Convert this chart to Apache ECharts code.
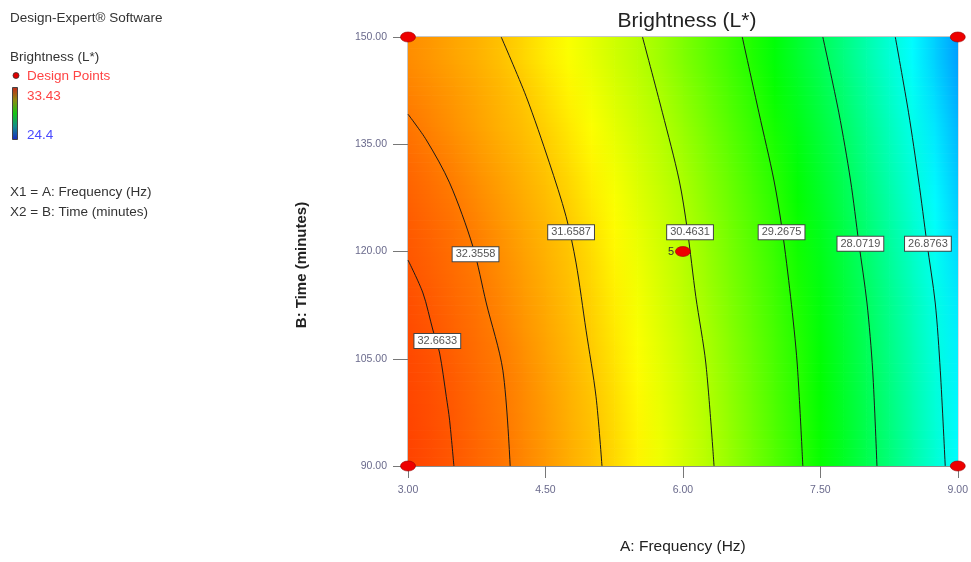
<!DOCTYPE html>
<html>
<head>
<meta charset="utf-8">
<script src="https://cdn.jsdelivr.net/npm/echarts@6/dist/echarts.min.js"></script>
<style>
html,body{margin:0;padding:0;background:#fff;}
#chart{width:971px;height:562px;}
</style>
</head>
<body>
<div id="chart"></div>
<script>
// ---------------- DATA ----------------
// Frequency nodes (Hz) at which the response surface was read
const freqNodes = [3.00,3.25,3.50,3.75,4.00,4.25,4.50,4.75,5.00,5.25,5.50,5.75,6.00,6.25,6.50,6.75,7.00,7.25,7.50,7.75,8.00,8.25,8.50,8.75,9.00];
// Time bands (minutes): band centres
const timeBands = [92.5,97.5,102.5,107.5,112.5,117.5,122.5,127.5,132.5,137.5,142.5,147.5];
const b092 = [32.84,32.75,32.65,32.53,32.41,32.25,32.08,31.90,31.73,31.51,31.27,31.02,30.78,30.54,30.25,29.94,29.63,29.33,28.97,28.60,28.23,27.85,27.44,27.04,26.63];
const b097 = [32.82,32.74,32.64,32.51,32.39,32.23,32.06,31.88,31.71,31.48,31.24,30.99,30.75,30.51,30.21,29.91,29.60,29.30,28.94,28.57,28.21,27.82,27.41,27.01,26.60];
const b102 = [32.80,32.72,32.61,32.49,32.37,32.21,32.03,31.85,31.67,31.44,31.20,30.96,30.72,30.47,30.18,29.88,29.57,29.27,28.91,28.54,28.18,27.79,27.38,26.98,26.56];
const b107 = [32.78,32.69,32.57,32.45,32.33,32.15,31.98,31.81,31.62,31.38,31.14,30.91,30.67,30.42,30.12,29.83,29.53,29.23,28.86,28.50,28.14,27.74,27.34,26.93,26.52];
const b112 = [32.74,32.64,32.52,32.41,32.26,32.09,31.93,31.76,31.57,31.33,31.09,30.85,30.61,30.35,30.06,29.77,29.48,29.17,28.81,28.45,28.09,27.69,27.29,26.89,26.47];
const b117 = [32.68,32.58,32.47,32.36,32.20,32.04,31.88,31.72,31.51,31.27,31.04,30.80,30.56,30.29,30.00,29.72,29.43,29.10,28.74,28.38,28.01,27.60,27.20,26.80,26.38];
const b122 = [32.64,32.54,32.43,32.30,32.14,31.98,31.83,31.67,31.44,31.21,30.98,30.75,30.51,30.24,29.95,29.66,29.37,29.03,28.67,28.30,27.92,27.52,27.12,26.71,26.29];
const b127 = [32.58,32.47,32.36,32.21,32.06,31.91,31.76,31.58,31.35,31.13,30.90,30.68,30.45,30.16,29.88,29.59,29.30,28.94,28.58,28.22,27.84,27.44,27.03,26.62,26.20];
const b132 = [32.50,32.39,32.26,32.11,31.97,31.83,31.68,31.48,31.26,31.04,30.82,30.60,30.36,30.07,29.79,29.50,29.20,28.84,28.49,28.14,27.74,27.34,26.95,26.53,26.11];
const b137 = [32.40,32.27,32.14,32.01,31.87,31.74,31.58,31.37,31.15,30.94,30.73,30.52,30.25,29.97,29.68,29.40,29.08,28.73,28.39,28.04,27.64,27.25,26.85,26.44,26.01];
const b142 = [32.28,32.18,32.07,31.95,31.82,31.67,31.46,31.26,31.05,30.84,30.64,30.42,30.14,29.86,29.58,29.30,28.96,28.62,28.28,27.92,27.53,27.14,26.75,26.33,25.90];
const b147 = [32.18,32.08,31.97,31.86,31.72,31.54,31.34,31.14,30.95,30.75,30.55,30.31,30.03,29.76,29.48,29.19,28.85,28.51,28.16,27.79,27.41,27.03,26.64,26.23,25.80];
const bandValues = [b092,b097,b102,b107,b112,b117,b122,b127,b132,b137,b142,b147];

// Contour lines: [frequency, time] points
const c32_6633 = [[3.501,90],[3.454,96.4],[3.418,99.7],[3.345,105.8],[3.272,109.0],[3.163,114.2],[3.0,118.8]];
const c32_3558 = [[4.115,90],[4.035,103.4],[3.854,112.8],[3.708,120.7],[3.454,129.6],[3.2,135.6],[3.0,139.2]];
const c31_6587 = [[5.117,90],[5.052,99.7],[4.943,109.0],[4.834,118.4],[4.725,124.9],[4.543,132.4],[4.289,141.7],[4.017,150]];
const c30_4631 = [[6.340,90],[6.250,104.4],[6.141,113.7],[6.049,123.0],[5.959,130.0],[5.777,139.4],[5.559,150]];
const c29_2675 = [[7.309,90],[7.247,104.4],[7.175,113.7],[7.084,123.0],[6.993,130.0],[6.830,139.4],[6.648,150]];
const c28_0719 = [[8.118,90],[8.071,103.4],[8.009,112.8],[7.920,121.2],[7.829,130.0],[7.702,139.4],[7.527,150]];
const c26_8763 = [[8.863,90],[8.809,103.4],[8.754,112.8],[8.663,121.2],[8.572,130.0],[8.463,139.4],[8.318,150]];
const contourLines = [c32_6633,c32_3558,c31_6587,c30_4631,c29_2675,c28_0719,c26_8763];

// Contour labels
const contourLabels = ['32.6633','32.3558','31.6587','30.4631','29.2675','28.0719','26.8763'];
const contourLabelX = [3.32,3.737,4.78,6.078,7.077,7.937,8.674];
const contourLabelY = [107.5,119.6,122.7,122.7,122.7,121.1,121.1];

// Design points
const designX = [3,3,9,9,6];
const designY = [90,150,90,150,120];
const designReps = ['','','','','5'];

// Axis ticks
const xTicks = [3.00,4.50,6.00,7.50,9.00];
const yTicks = [90.00,105.00,120.00,135.00,150.00];
const colorMin = 24.4, colorMax = 33.43;

// ---------------- COLOUR SCALE ----------------
const rampColors = [[0,0,255],[0,255,255],[0,255,0],[255,255,0],[255,0,0]];
function rgbOf(v){
  let f = (v - colorMin) / (colorMax - colorMin);
  f = Math.max(0, Math.min(1, f)) * (rampColors.length - 1);
  const i = Math.min(rampColors.length - 2, Math.floor(f));
  const r = f - i, a = rampColors[i], b = rampColors[i+1];
  return [a[0]+(b[0]-a[0])*r, a[1]+(b[1]-a[1])*r, a[2]+(b[2]-a[2])*r];
}
function mixCss(c1, c2, w){
  return 'rgb(' + Math.round(c1[0]+(c2[0]-c1[0])*w) + ',' + Math.round(c1[1]+(c2[1]-c1[1])*w) + ',' + Math.round(c1[2]+(c2[2]-c1[2])*w) + ')';
}

// ---------------- BUILD SERIES DATA ----------------
// each item: [x0, x1, tLow, tHigh, vLowLeft, vLowRight, vHighLeft, vHighRight]
const yMin = yTicks[0], yMax = yTicks[yTicks.length-1];
const fieldData = [];
const spans = [];
spans.push([yMin, timeBands[0], bandValues[0], bandValues[0]]);
for (let r = 0; r < timeBands.length - 1; r++) spans.push([timeBands[r], timeBands[r+1], bandValues[r], bandValues[r+1]]);
spans.push([timeBands[timeBands.length-1], yMax, bandValues[bandValues.length-1], bandValues[bandValues.length-1]]);
spans.forEach(function(s){
  for (let c = 0; c < freqNodes.length - 1; c++) {
    fieldData.push([freqNodes[c], freqNodes[c+1], s[0], s[1], s[2][c], s[2][c+1], s[3][c], s[3][c+1]]);
  }
});

const FONT = 'Liberation Sans, Arial, sans-serif';
const STRIPS = 8;
const series = [];
series.push({
  type: 'custom',
  clip: true,
  silent: true,
  z: 1,
  encode: { x: [0, 1], y: [2, 3] },
  data: fieldData,
  renderItem: function(params, api){
    const pLow = api.coord([api.value(0), api.value(2)]);
    const pHigh = api.coord([api.value(1), api.value(3)]);
    const lowL = rgbOf(api.value(4)), lowR = rgbOf(api.value(5));
    const highL = rgbOf(api.value(6)), highR = rgbOf(api.value(7));
    const x = pLow[0], w = pHigh[0] - pLow[0] + 0.7;
    const yBottom = pLow[1], yTop = pHigh[1];
    const h = (yBottom - yTop) / STRIPS;
    const children = [];
    for (let k = 0; k < STRIPS; k++) {
      const wgt = (k + 0.5) / STRIPS;
      children.push({
        type: 'rect',
        shape: { x: x, y: yBottom - (k + 1) * h, width: w, height: h + 0.7 },
        style: {
          fill: new echarts.graphic.LinearGradient(0, 0, 1, 0, [
            { offset: 0, color: mixCss(lowL, highL, wgt) },
            { offset: 1, color: mixCss(lowR, highR, wgt) }
          ])
        }
      });
    }
    return { type: 'group', children: children };
  }
});
contourLines.forEach(function(pts){
  series.push({
    type: 'line', data: pts, smooth: 0.3, symbol: 'none', z: 3, silent: true,
    lineStyle: { color: '#1a1a1a', width: 1 }
  });
});
series.push({
  type: 'scatter', z: 5, silent: true, symbolSize: 0,
  itemStyle: { color: '#fff', opacity: 1 },
  data: contourLabels.map(function(l, i){ return { name: l, value: [contourLabelX[i], contourLabelY[i]] }; }),
  label: {
    show: true, position: 'inside', formatter: '{b}',
    fontFamily: FONT, fontSize: 11, color: '#555',
    backgroundColor: '#fff', borderColor: '#444', borderWidth: 1, padding: [2, 3, 1, 3]
  }
});
series.push({
  type: 'scatter', z: 6, silent: true, clip: false,
  symbol: 'circle', symbolSize: [15, 10],
  itemStyle: { color: '#ee0000', borderColor: '#9a0000', borderWidth: 0.6, opacity: 1 },
  data: designX.map(function(x, i){ return { value: [x, designY[i]], name: designReps[i] }; }),
  label: { show: true, position: 'left', distance: 1, formatter: '{b}', fontFamily: FONT, fontSize: 11, color: '#333' }
});

const chart = echarts.init(document.getElementById('chart'), null, { renderer: 'canvas' });
chart.setOption({
  animation: false,
  backgroundColor: '#fff',
  title: {
    text: 'Brightness (L*)', left: 682, top: 6, textAlign: 'center',
    textStyle: { fontFamily: FONT, fontSize: 21, fontWeight: 'normal', color: '#222' }
  },
  grid: { left: 408, top: 37, right: 12, bottom: 96, show: true, borderColor: '#8c8c8c', borderWidth: 1 },
  xAxis: {
    type: 'value', min: xTicks[0], max: xTicks[xTicks.length-1], interval: xTicks[1]-xTicks[0],
    name: 'A: Frequency (Hz)', nameLocation: 'middle', nameGap: 73,
    nameTextStyle: { fontFamily: FONT, fontSize: 15.5, color: '#222' },
    axisLine: { show: true, lineStyle: { color: '#8c8c8c' } },
    axisTick: { show: true, length: 12, lineStyle: { color: '#777' } },
    axisLabel: { margin: 19, fontFamily: FONT, fontSize: 10.5, color: '#6a6a8c', formatter: function(v){ return v.toFixed(2); } },
    splitLine: { show: false }
  },
  yAxis: {
    type: 'value', min: yTicks[0], max: yTicks[yTicks.length-1], interval: yTicks[1]-yTicks[0],
    name: 'B: Time (minutes)', nameLocation: 'middle', nameGap: 99, nameRotate: 90,
    nameTextStyle: { fontFamily: FONT, fontSize: 15, fontWeight: 'bold', color: '#222', padding: [0, 27, 0, 0] },
    axisLine: { show: true, lineStyle: { color: '#8c8c8c' } },
    axisTick: { show: true, length: 15, lineStyle: { color: '#777' } },
    axisLabel: { margin: 21, fontFamily: FONT, fontSize: 10.5, color: '#6a6a8c', formatter: function(v){ return v.toFixed(2); } },
    splitLine: { show: false }
  },
  graphic: [
    { type: 'text', left: 10, top: 11, style: { text: 'Design-Expert® Software', font: '13.5px ' + FONT, fill: '#333' } },
    { type: 'text', left: 10, top: 50, style: { text: 'Brightness (L*)', font: '13.5px ' + FONT, fill: '#333' } },
    { type: 'circle', shape: { cx: 16, cy: 75.5, r: 3 }, style: { fill: '#e00000', stroke: '#333', lineWidth: 0.8 } },
    { type: 'text', left: 27, top: 69, style: { text: 'Design Points', font: '13.5px ' + FONT, fill: '#ff4444' } },
    { type: 'rect', shape: { x: 12.5, y: 87.5, width: 5, height: 52 },
      style: { stroke: '#444', lineWidth: 1,
        fill: new echarts.graphic.LinearGradient(0, 0, 0, 1, [
          { offset: 0, color: '#c4261a' }, { offset: 0.25, color: '#8c8c10' },
          { offset: 0.5, color: '#14c414' }, { offset: 0.75, color: '#108c8c' }, { offset: 1, color: '#1a26c4' }
        ]) } },
    { type: 'text', left: 27, top: 89, style: { text: '33.43', font: '13.5px ' + FONT, fill: '#ff4444' } },
    { type: 'text', left: 27, top: 128, style: { text: '24.4', font: '13.5px ' + FONT, fill: '#4a4aff' } },
    { type: 'text', left: 10, top: 185, style: { text: 'X1 = A: Frequency (Hz)', font: '13.5px ' + FONT, fill: '#333' } },
    { type: 'text', left: 10, top: 205, style: { text: 'X2 = B: Time (minutes)', font: '13.5px ' + FONT, fill: '#333' } }
  ],
  series: series
});
</script>
</body>
</html>
